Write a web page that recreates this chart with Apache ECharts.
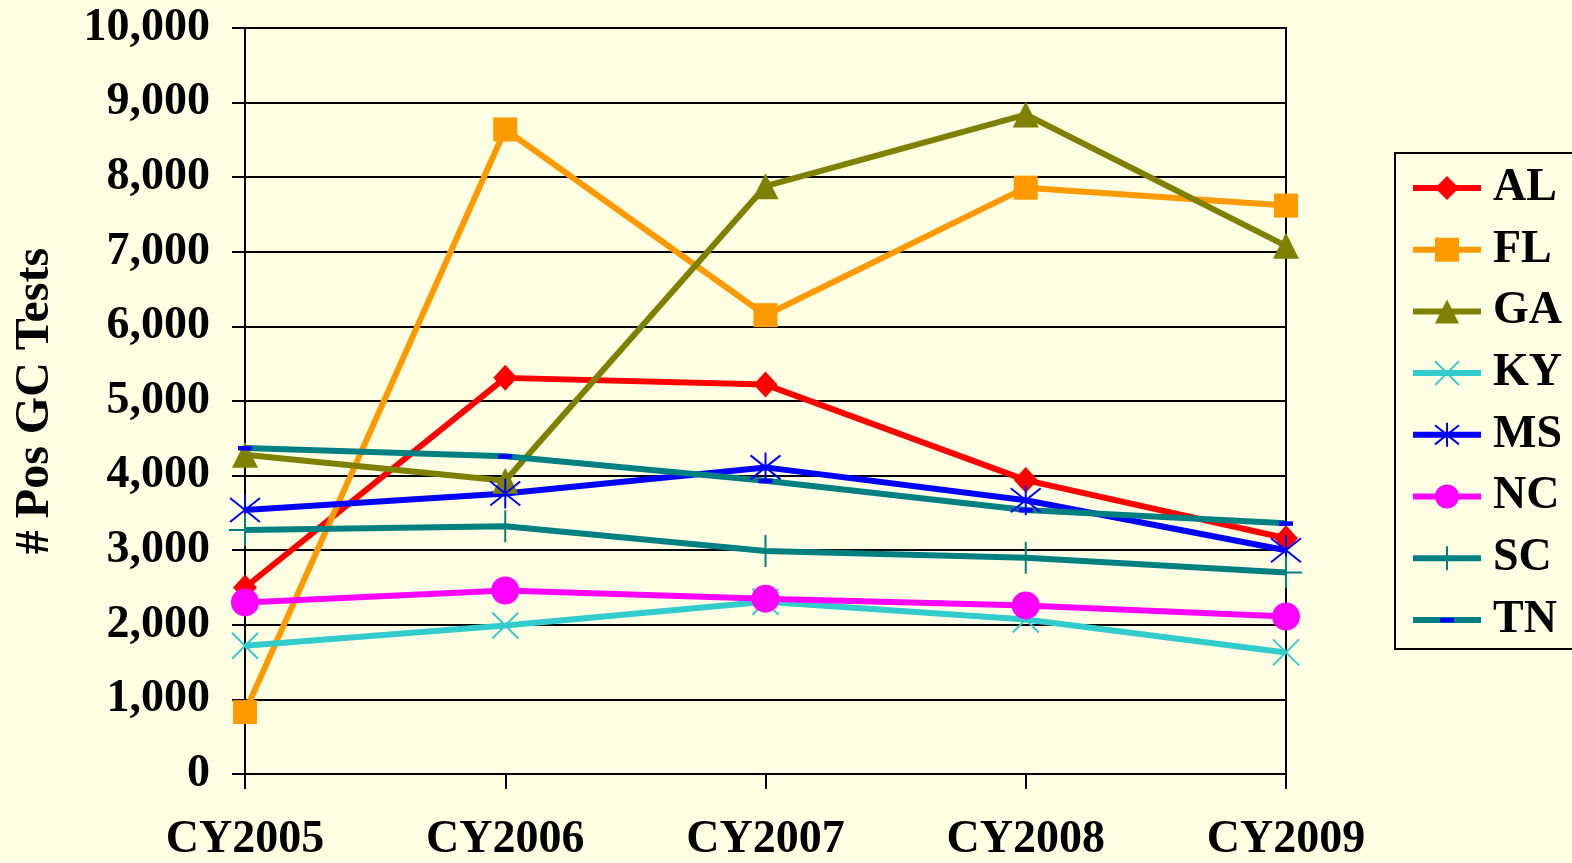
<!DOCTYPE html>
<html>
<head>
<meta charset="utf-8"/>
<script src="https://cdn.jsdelivr.net/npm/echarts@6/dist/echarts.min.js"></script>
<style>
  html, body { margin: 0; padding: 0; background: #FFFFE4; }
  #main { width: 1572px; height: 863px; }
</style>
</head>
<body>
<div id="main"></div>
<script>
// categories and values
var years = ['CY2005', 'CY2006', 'CY2007', 'CY2008', 'CY2009'];
var AL = [2500, 5310, 5220, 3940, 3160];
var FL = [830, 8640, 6150, 7860, 7620];
var GA = [4280, 3930, 7880, 8840, 7080];
var KY = [1720, 1990, 2310, 2070, 1630];
var MS = [3540, 3760, 4110, 3670, 3000];
var NC = [2300, 2460, 2350, 2260, 2110];
var SC = [3270, 3320, 2990, 2900, 2700];
var TN = [4370, 4260, 3930, 3540, 3360];

var font = "'Liberation Serif', 'Times New Roman', serif";

// marker shapes (Excel style)
var crossX = 'path://M0,0L10,10M10,0L0,10';
var star = 'path://M0,1L10,9M10,1L0,9M5,0L5,10';
var plus = 'path://M5,0L5,10M0,5L10,5';
// small dash centred in a square box so the legend keeps it small
var dash = 'path://M0,0M24,24M5,10L19,10L19,14.5L5,14.5Z';

function line(name, data, color, symbol, size, stroked, symColor) {
    var s = {
        name: name,
        type: 'line',
        data: data,
        symbol: symbol,
        symbolSize: size,
        lineStyle: { color: color, width: 6 },
        itemStyle: { color: symColor || color },
        emphasis: { disabled: true }
    };
    if (stroked) {
        s.itemStyle = { color: 'none', borderColor: color, borderWidth: 2 };
    }
    return s;
}

var chart = echarts.init(document.getElementById('main'));
chart.setOption({
    animation: false,
    backgroundColor: '#FFFFE4',
    grid: {
        left: 245, right: 286, top: 28, bottom: 86,
        show: true, borderColor: '#000', borderWidth: 2
    },
    legend: {
        orient: 'vertical',
        left: 1395, top: 153,
        padding: [12, 12, 6, 15],
        borderColor: '#000', borderWidth: 2,
        itemWidth: 68, itemHeight: 30, itemGap: 15.7,
        lineStyle: { width: 6 },
        textStyle: {
            fontFamily: font, fontWeight: 'bold', fontSize: 46,
            color: '#000', padding: [0, 0, 0, 7]
        },
        data: ['AL', 'FL', 'GA', 'KY', 'MS', 'NC', 'SC', 'TN']
    },
    xAxis: {
        type: 'category',
        data: years,
        boundaryGap: false,
        axisLine: { lineStyle: { color: '#000', width: 2 } },
        axisTick: { length: 15, lineStyle: { color: '#000', width: 2 } },
        axisLabel: {
            margin: 43, color: '#000',
            fontFamily: font, fontWeight: 'bold', fontSize: 46
        }
    },
    yAxis: {
        type: 'value',
        min: 0, max: 10000, interval: 1000,
        name: '# Pos GC Tests',
        nameLocation: 'middle',
        nameRotate: 90,
        nameGap: 185,
        nameTextStyle: { fontFamily: font, fontWeight: 'bold', fontSize: 48, color: '#000' },
        axisLine: { show: true, lineStyle: { color: '#000', width: 2 } },
        axisTick: { show: true, length: 13, lineStyle: { color: '#000', width: 2 } },
        splitLine: { lineStyle: { color: '#000', width: 2 } },
        axisLabel: {
            margin: 35, color: '#000',
            fontFamily: font, fontWeight: 'bold', fontSize: 46,
            formatter: function (v) { return v.toLocaleString('en-US'); }
        }
    },
    series: [
        line('AL', AL, '#FF0000', 'diamond', [24, 26]),
        line('FL', FL, '#FF9900', 'rect', 24),
        line('GA', GA, '#808000', 'triangle', 26),
        line('KY', KY, '#33CCCC', crossX, 26, true),
        line('MS', MS, '#0000FF', star, 30, true),
        line('NC', NC, '#FF00FF', 'circle', 28),
        line('SC', SC, '#008080', plus, 32, true),
        line('TN', TN, '#008080', dash, 24, false, '#0000FF')
    ]
});
</script>
</body>
</html>
